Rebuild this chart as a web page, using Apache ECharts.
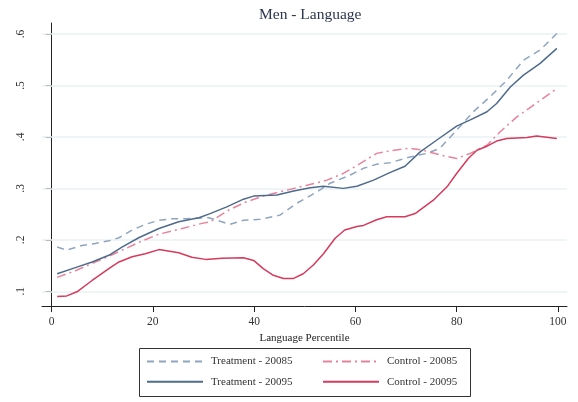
<!DOCTYPE html>
<html>
<head>
<meta charset="utf-8">
<script src="https://cdn.jsdelivr.net/npm/echarts@6/dist/echarts.min.js"></script>
<style>
  html, body { margin: 0; padding: 0; background: #fff; }
  #chart { width: 578px; height: 402px; }
</style>
</head>
<body>
<div id="chart"></div>
<script>
// Share of students by language percentile, men, two cohorts.
const seriesNames = ['Treatment - 20085', 'Control - 20085', 'Treatment - 20095', 'Control - 20095'];
const xTicks = [0, 20, 40, 60, 80, 100];
const yTicks = [0.1, 0.2, 0.3, 0.4, 0.5, 0.6];

const treatment20085 = [
  [1.1, 0.186], [3.0, 0.180], [6.0, 0.189], [8.6, 0.193], [11.3, 0.198], [13.3, 0.204],
  [15.9, 0.219], [18.5, 0.230], [21.2, 0.238], [23.8, 0.241], [26.4, 0.241], [31.0, 0.243],
  [33.0, 0.237], [35.2, 0.230], [37.9, 0.238], [41.2, 0.240], [45.1, 0.248], [48.4, 0.271],
  [52.4, 0.293], [55.0, 0.310], [59.0, 0.326], [61.6, 0.339], [64.2, 0.347], [66.9, 0.350],
  [70.8, 0.361], [74.1, 0.368], [76.7, 0.378], [80.0, 0.413], [83.3, 0.449], [86.6, 0.478],
  [89.9, 0.510], [93.2, 0.549], [96.5, 0.569], [99.8, 0.601]
];
const control20085 = [
  [1.1, 0.127], [4.7, 0.140], [8.0, 0.154], [11.3, 0.168], [14.6, 0.183], [17.9, 0.198],
  [21.2, 0.211], [25.8, 0.222], [29.7, 0.232], [31.3, 0.235], [35.2, 0.259], [38.5, 0.274],
  [41.8, 0.285], [45.8, 0.295], [50.4, 0.306], [54.4, 0.316], [57.6, 0.329], [60.9, 0.348],
  [64.2, 0.368], [66.9, 0.373], [70.8, 0.378], [73.4, 0.374], [76.7, 0.365], [80.0, 0.358],
  [82.7, 0.368], [86.0, 0.384], [88.6, 0.410], [91.9, 0.439], [95.2, 0.462], [99.8, 0.494]
];
const treatment20095 = [
  [1.1, 0.134], [4.7, 0.146], [8.0, 0.157], [11.3, 0.170], [13.9, 0.186], [17.2, 0.204],
  [21.2, 0.222], [25.1, 0.235], [29.1, 0.243], [31.3, 0.251], [34.6, 0.264], [37.9, 0.279],
  [39.9, 0.285], [44.5, 0.287], [47.8, 0.295], [51.1, 0.301], [53.7, 0.304], [57.6, 0.300],
  [60.3, 0.304], [63.6, 0.316], [66.9, 0.331], [69.8, 0.343], [72.8, 0.371], [76.1, 0.394],
  [80.0, 0.421], [82.7, 0.433], [86.0, 0.449], [87.9, 0.465], [90.6, 0.497], [93.2, 0.520],
  [96.5, 0.543], [99.8, 0.572]
];
const control20095 = [
  [1.1, 0.090], [3.0, 0.091], [5.0, 0.099], [8.0, 0.121], [11.3, 0.144], [13.3, 0.157],
  [15.9, 0.167], [18.5, 0.173], [21.2, 0.181], [25.1, 0.175], [27.7, 0.166], [30.4, 0.162],
  [33.7, 0.164], [37.9, 0.165], [39.9, 0.160], [41.8, 0.144], [43.8, 0.131], [45.8, 0.125],
  [47.8, 0.125], [49.7, 0.134], [51.7, 0.151], [53.7, 0.173], [56.0, 0.203], [57.9, 0.219],
  [60.3, 0.226], [61.6, 0.228], [64.2, 0.239], [66.2, 0.245], [69.8, 0.245], [71.8, 0.251],
  [75.4, 0.277], [78.1, 0.303], [80.0, 0.329], [82.3, 0.358], [84.0, 0.374], [86.0, 0.382],
  [87.9, 0.392], [89.9, 0.397], [93.9, 0.399], [95.8, 0.402], [99.8, 0.397]
];

const serif = "'Liberation Serif', 'DejaVu Serif', serif";
const colors = {
  treatmentLight: '#8fa5bf',
  treatmentDark: '#4e6b8c',
  controlLight: '#e8839c',
  controlDark: '#d63a5c'
};

function lineSeries(name, data, color, type) {
  return {
    name: name,
    type: 'line',
    data: data,
    showSymbol: false,
    symbol: 'none',
    smooth: false,
    lineStyle: { color: color, width: 1.5, type: type },
    itemStyle: { color: color },
    emphasis: { disabled: true },
    z: 3
  };
}

const chart = echarts.init(document.getElementById('chart'), null, { renderer: 'canvas' });

const series = [
  lineSeries(seriesNames[0], treatment20085, colors.treatmentLight, [7, 5]),
  lineSeries(seriesNames[1], control20085, colors.controlLight, [9, 4, 2, 4]),
  lineSeries(seriesNames[2], treatment20095, colors.treatmentDark, 'solid'),
  lineSeries(seriesNames[3], control20095, colors.controlDark, 'solid')
];

// Horizontal grid lines at the labelled y values
series[0].markLine = {
  silent: true,
  symbol: 'none',
  label: { show: false },
  lineStyle: { color: '#eaf1f3', width: 1.5, type: 'solid' },
  data: yTicks.map(v => ({ yAxis: v })),
  z: 1
};

function legendColumn(names, left) {
  return {
    data: names,
    orient: 'vertical',
    left: left,
    top: 356,
    padding: 0,
    itemWidth: 56,
    itemHeight: 14,
    itemGap: 9,
    selectedMode: false,
    itemStyle: { opacity: 0 },
    textStyle: { fontFamily: serif, fontSize: 11, color: '#333', padding: [0, 0, 0, 3] }
  };
}

chart.setOption({
  animation: false,
  backgroundColor: '#ffffff',
  title: {
    text: 'Men - Language',
    left: 254,
    top: 2,
    textStyle: { fontFamily: serif, fontSize: 15.5, fontWeight: 'normal', color: '#2b3552' }
  },
  grid: { left: 42, right: 11, top: 23, bottom: 96 },
  xAxis: {
    type: 'value',
    min: -1.9,
    max: 101.8,
    name: 'Language Percentile',
    nameLocation: 'middle',
    nameGap: 26,
    nameTextStyle: { fontFamily: serif, fontSize: 11, color: '#222' },
    axisLine: { show: true, lineStyle: { color: '#222', width: 1 } },
    axisTick: { show: true, length: 6, lineStyle: { color: '#222' }, customValues: xTicks },
    axisLabel: { fontFamily: serif, fontSize: 11.5, color: '#333', margin: 10, customValues: xTicks },
    splitLine: { show: false }
  },
  yAxis: {
    type: 'value',
    min: 0.0714,
    max: 0.6214,
    axisLine: { show: true, lineStyle: { color: '#222', width: 1 } },
    axisTick: { show: true, length: 6, lineStyle: { color: '#222' }, customValues: yTicks },
    axisLabel: {
      fontFamily: serif, fontSize: 11.5, color: '#333', rotate: 90, margin: 15,
      customValues: yTicks,
      formatter: v => String(Math.round(v * 10) / 10).replace(/^0/, '')
    },
    splitLine: { show: false }
  },
  legend: [
    legendColumn([seriesNames[0], seriesNames[2]], 146),
    legendColumn([seriesNames[1], seriesNames[3]], 322)
  ],
  graphic: [
    {
      type: 'rect',
      shape: { x: 139.5, y: 348.5, width: 331, height: 48 },
      style: { fill: 'none', stroke: '#333', lineWidth: 1 },
      silent: true
    }
  ],
  series: series
});
</script>
</body>
</html>
